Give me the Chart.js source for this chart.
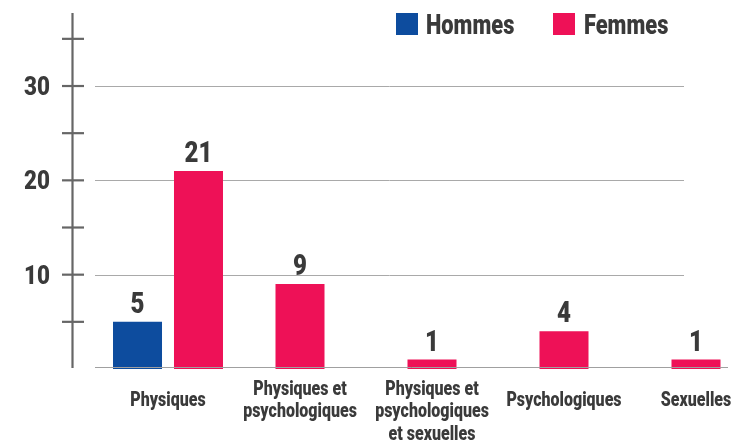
<!DOCTYPE html>
<html>
<head>
<meta charset="utf-8">
<script src="https://cdn.jsdelivr.net/npm/chart.js@4/dist/chart.umd.min.js"></script>
<style>
  html, body { margin: 0; padding: 0; background: #ffffff; }
  #wrap { width: 735px; height: 442px; }
</style>
</head>
<body>
<div id="wrap"><canvas id="c" width="735" height="442"></canvas></div>
<script>
// ---- data ----
const categories = [
  ["Physiques"],
  ["Physiques et", "psychologiques"],
  ["Physiques et", "psychologiques", "et sexuelles"],
  ["Psychologiques"],
  ["Sexuelles"]
];
const seriesNames = ["Hommes", "Femmes"];
const hommes = [5, null, null, null, null];
const femmes = [21, 9, 1, 4, 1];
const yTickLabels = [10, 20, 30];
const yMinorTicks = [5, 10, 15, 20, 25, 30, 35];

// ---- styles ----
const COLORS = ["#0d4c9e", "#ee1157"];
const TEXT = "#3a3a3a";
const FONT = "Roboto, 'Liberation Sans', sans-serif";

function condText(ctx, text, x, y, size, align, sx) {
  ctx.save();
  ctx.font = "900 " + size + "px " + FONT;
  ctx.fillStyle = TEXT;
  ctx.textBaseline = "alphabetic";
  ctx.textAlign = align;
  ctx.translate(x, y);
  ctx.scale(sx, 1);
  ctx.fillText(text, 0, 0);
  ctx.restore();
}

const decor = {
  id: "decor",
  beforeDatasetsDraw(chart) {
    const ctx = chart.ctx;
    const ys = chart.scales.y;
    ctx.save();
    ctx.strokeStyle = "#a9a9a9";
    ctx.lineWidth = 1;
    yTickLabels.forEach(v => {
      const py = Math.round(ys.getPixelForValue(v)) + 0.5;
      ctx.beginPath(); ctx.moveTo(95, py); ctx.lineTo(684, py); ctx.stroke();
    });
    ctx.restore();
  },
  afterDatasetsDraw(chart) {
    const ctx = chart.ctx;
    const ys = chart.scales.y;
    const xs = chart.scales.x;
    const y0 = ys.getPixelForValue(0);
    ctx.save();
    // baseline
    ctx.strokeStyle = "#a0a0a0";
    ctx.lineWidth = 1;
    ctx.beginPath(); ctx.moveTo(95, Math.round(y0) - 1.5); ctx.lineTo(728, Math.round(y0) - 1.5); ctx.stroke();
    // axis line
    ctx.strokeStyle = "#666666";
    ctx.lineWidth = 2.2;
    ctx.beginPath(); ctx.moveTo(72.5, chart.chartArea.top); ctx.lineTo(72.5, y0 - 1); ctx.stroke();
    // tick marks
    yMinorTicks.forEach(v => {
      const py = ys.getPixelForValue(v);
      ctx.beginPath(); ctx.moveTo(62, py); ctx.lineTo(84, py); ctx.stroke();
    });
    ctx.restore();
    // tick labels
    yTickLabels.forEach(v => {
      const py = ys.getPixelForValue(v);
      condText(ctx, String(v), 50, py + 9, 26, "right", 0.86);
    });
    // value labels
    chart.data.datasets.forEach((ds, di) => {
      const meta = chart.getDatasetMeta(di);
      meta.data.forEach((bar, i) => {
        const v = ds.data[i];
        if (v === null || v === undefined) return;
        condText(ctx, String(v), bar.x, bar.y - 9, 29, "center", 0.83);
      });
    });
    // category labels
    categories.forEach((lines, i) => {
      const px = xs.getPixelForValue(i);
      if (lines.length === 1) {
        condText(ctx, lines[0], px, 406, 20, "center", 0.8);
      } else {
        lines.forEach((ln, k) => {
          condText(ctx, ln, px, 394.5 + k * 22.5, 20, "center", 0.8);
        });
      }
    });
    // legend
    const legendPos = [[396, 426], [553, 584]];
    chart.data.datasets.forEach((ds, di) => {
      const [bx, tx] = legendPos[di];
      ctx.fillStyle = ds.backgroundColor;
      ctx.fillRect(bx, 13, 22, 22);
      condText(ctx, ds.label, tx, 34, 28, "left", 0.78);
    });
  }
};

new Chart(document.getElementById("c"), {
  type: "bar",
  data: {
    labels: categories,
    datasets: [
      { label: seriesNames[0], data: hommes, backgroundColor: COLORS[0] },
      { label: seriesNames[1], data: femmes, backgroundColor: COLORS[1] }
    ]
  },
  options: {
    responsive: false,
    animation: false,
    devicePixelRatio: 1,
    layout: { padding: { left: 168, right: 39, top: 13, bottom: 73 } },
    datasets: {
      bar: {
        skipNull: true,
        categoryPercentage: 0.924,
        barPercentage: 1,
        maxBarThickness: 49,
        clip: false,
        borderWidth: 0
      }
    },
    scales: {
      x: { display: false, offset: false },
      y: { display: false, min: 0, max: 37.74 }
    },
    plugins: { legend: { display: false }, tooltip: { enabled: false } }
  },
  plugins: [decor]
});
</script>
</body>
</html>
